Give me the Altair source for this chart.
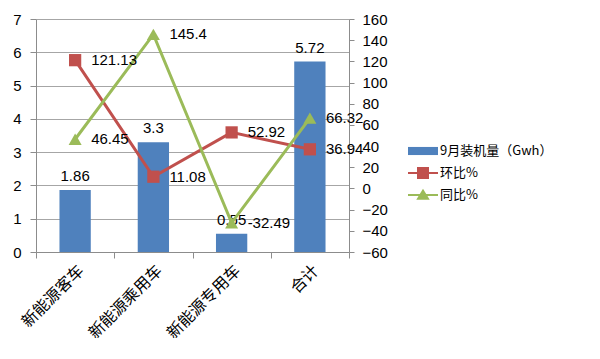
import altair as alt
import pandas as pd

categories = ["新能源客车", "新能源乘用车", "新能源专用车", "合计"]
installed = [1.86, 3.3, 0.55, 5.72]
mom = [121.13, 11.08, 52.92, 36.94]
yoy = [46.45, 145.4, -32.49, 66.32]
series_names = ["9月装机量（Gwh）", "环比%", "同比%"]
series_colors = ["#4F81BD", "#C0504D", "#9BBB59"]
left_ticks = [0, 1, 2, 3, 4, 5, 6, 7]
right_ticks = [-60, -40, -20, 0, 20, 40, 60, 80, 100, 120, 140, 160]

df = pd.DataFrame({
    "cat": categories,
    "installed": installed,
    "mom": mom,
    "yoy": yoy,
    "installed_lbl": [str(v) for v in installed],
    "mom_lbl": [str(v) for v in mom],
    "yoy_lbl": [str(v) for v in yoy],
})

legend_df = pd.DataFrame({
    "series": series_names,
    "cat": categories[:3],
    "v": [0, 0, 0],
})

NUM_FONT = "Liberation Sans"
CJK_FONT = "Noto Sans CJK SC"
AX_GRAY = "#8C8C8C"
GRID_GRAY = "#A6A6A6"

x_axis = alt.Axis(title=None, labelAngle=-45, tickBand="extent", labelFont=CJK_FONT,
                  labelFontSize=16, labelColor="#000", domainColor=AX_GRAY, tickColor=AX_GRAY,
                  tickSize=6, grid=False, labelPadding=4)
x_enc = alt.X("cat:N", sort=categories, scale=alt.Scale(paddingInner=0, paddingOuter=0), axis=x_axis)

base = alt.Chart(df)

lscale = alt.Scale(domain=[0, 7], nice=False)
y_left_axis = alt.Axis(values=left_ticks, title=None, orient="left", grid=True,
                       gridColor=GRID_GRAY, domainColor=AX_GRAY, tickColor=AX_GRAY,
                       tickSize=6, labelFont=NUM_FONT, labelFontSize=15, labelColor="#000",
                       labelPadding=9)
y_left = alt.Y("installed:Q", scale=lscale, axis=y_left_axis)

bars = base.mark_bar(color=series_colors[0], width=alt.RelativeBandSize(0.4)).encode(x=x_enc, y=y_left)
bar_text = base.mark_text(baseline="bottom", dy=-6, fontSize=15, font=NUM_FONT, color="#000").encode(
    x=x_enc, y=y_left, text="installed_lbl:N")
left = alt.layer(bars, bar_text)

rscale = alt.Scale(domain=[-60, 160], nice=False)
y_right_axis = alt.Axis(values=right_ticks, title=None, orient="right", grid=False,
                        domainColor=AX_GRAY, tickColor=AX_GRAY, tickSize=5,
                        labelFont=NUM_FONT, labelFontSize=15, labelColor="#000", labelPadding=8)

def ry(field):
    return alt.Y(field, scale=rscale, axis=y_right_axis)

mom_line = base.mark_line(color=series_colors[1], strokeWidth=3).encode(x=x_enc, y=ry("mom:Q"))
mom_pts = base.mark_point(shape="square", filled=True, opacity=1, size=150, color=series_colors[1]).encode(
    x=x_enc, y=ry("mom:Q"))
mom_text = base.mark_text(align="left", baseline="middle", dx=16, fontSize=15, font=NUM_FONT, color="#000").encode(
    x=x_enc, y=ry("mom:Q"), text="mom_lbl:N")

yoy_line = base.mark_line(color=series_colors[2], strokeWidth=3).encode(x=x_enc, y=ry("yoy:Q"))
yoy_pts = base.mark_point(shape="triangle-up", filled=True, opacity=1, size=170, color=series_colors[2]).encode(
    x=x_enc, y=ry("yoy:Q"))
yoy_text = base.mark_text(align="left", baseline="middle", dx=16, fontSize=15, font=NUM_FONT, color="#000").encode(
    x=x_enc, y=ry("yoy:Q"), text="yoy_lbl:N")

shape_paths = [
    "M-1,-0.27H1V0.27H-1Z",
    "M-1,-0.06H1V0.06H-1Z M-0.4,-0.4H0.4V0.4H-0.4Z",
    "M-1,-0.06H1V0.06H-1Z M-0.45,0.32L0,-0.42L0.45,0.32Z",
]
leg = alt.Legend(title=None, orient="none", legendX=372, legendY=117, symbolOpacity=1,
                 symbolSize=900, symbolStrokeWidth=0, labelFont=CJK_FONT, labelFontSize=13,
                 labelColor="#000", labelOffset=2, rowPadding=0, padding=0)
legend_layer = alt.Chart(legend_df).mark_point(filled=True, opacity=0).encode(
    x=x_enc,
    y=ry("v:Q"),
    color=alt.Color("series:N", scale=alt.Scale(domain=series_names, range=series_colors), legend=leg),
    shape=alt.Shape("series:N", scale=alt.Scale(domain=series_names, range=shape_paths), legend=leg),
)

right = alt.layer(mom_line, yoy_line, mom_pts, yoy_pts, mom_text, yoy_text, legend_layer)

chart = alt.layer(left, right).resolve_scale(y="independent").properties(
    width=313, height=233,
    autosize=alt.AutoSizeParams(type="none"),
    padding={"left": 28, "top": 11, "right": 243, "bottom": 99},
    background="white",
).configure_view(stroke=None)

chart.save("out.html", embed_options={"renderer": "svg", "actions": False})
